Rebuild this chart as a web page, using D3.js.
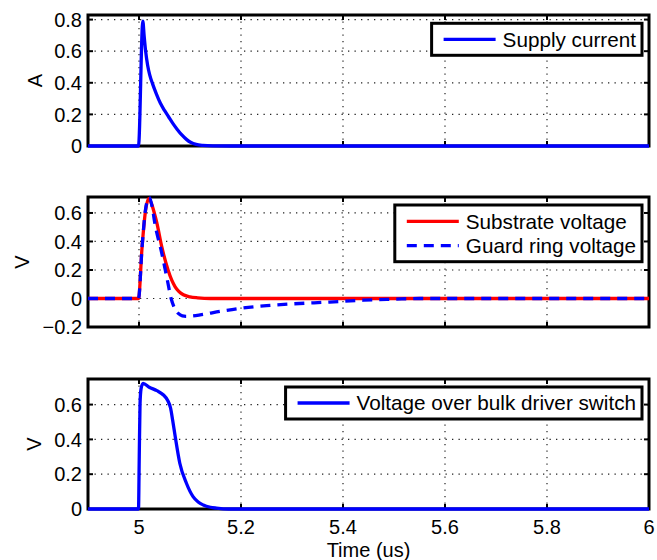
<!DOCTYPE html>
<html>
<head>
<meta charset="utf-8">
<script src="https://d3js.org/d3.v7.min.js"></script>
<style>
  body { margin: 0; background: #fff; }
  text { font-family: "Liberation Sans", Arial, Helvetica, sans-serif; fill: #000; }
</style>
</head>
<body>
<div id="my_chart"></div>
<script>
// time axis (us)
var xTicks = [5, 5.2, 5.4, 5.6, 5.8, 6];
var xTickLabels = ["5", "5.2", "5.4", "5.6", "5.8", "6"];

// panel 1: supply current (A)
var supplyT = [4.9, 4.999, 5.0075, 5.010, 5.013, 5.017, 5.021, 5.027, 5.034, 5.042, 5.050, 5.058, 5.066, 5.075, 5.084, 5.093, 5.102, 5.112, 5.125, 5.145, 5.180, 6.0];
var supplyI = [0, 0, 0.79, 0.70, 0.60, 0.51, 0.45, 0.39, 0.33, 0.27, 0.225, 0.185, 0.145, 0.105, 0.07, 0.042, 0.022, 0.01, 0.004, 0.001, 0, 0];
var yTicks1 = [0, 0.2, 0.4, 0.6, 0.8];

// panel 2: substrate and guard ring voltage (V)
var substrateT = [4.9, 4.999, 5.006, 5.013, 5.019, 5.025, 5.030, 5.035, 5.0445, 5.057, 5.064, 5.0706, 5.078, 5.087, 5.100, 5.115, 5.140, 6.0];
var substrateV = [0, 0, 0.36, 0.62, 0.70, 0.66, 0.60, 0.53, 0.365, 0.20, 0.13, 0.084, 0.05, 0.026, 0.012, 0.005, 0, 0];
var guardT = [4.9, 4.999, 5.006, 5.013, 5.020, 5.026, 5.031, 5.0445, 5.055, 5.063, 5.070, 5.077, 5.085, 5.092, 5.105, 5.12, 5.16, 5.2, 5.25, 5.3, 5.374, 5.44, 5.5, 5.55, 6.0];
var guardV = [0, 0, 0.36, 0.63, 0.71, 0.64, 0.53, 0.32, 0.14, 0.0, -0.07, -0.105, -0.122, -0.125, -0.122, -0.115, -0.09, -0.068, -0.05, -0.038, -0.025, -0.012, -0.005, 0, 0];
var yTicks2 = [-0.2, 0, 0.2, 0.4, 0.6];

// panel 3: voltage over bulk driver switch (V)
var bulkT = [4.9, 4.999, 5.0005, 5.002, 5.004, 5.008, 5.020, 5.035, 5.048, 5.056, 5.062, 5.066, 5.071, 5.080, 5.093, 5.106, 5.116, 5.126, 5.140, 5.152, 5.175, 6.0];
var bulkV = [0, 0, 0.30, 0.60, 0.69, 0.722, 0.70, 0.68, 0.655, 0.625, 0.579, 0.51, 0.416, 0.263, 0.148, 0.071, 0.040, 0.023, 0.010, 0.005, 0, 0];
var yTicks3 = [0, 0.2, 0.4, 0.6];

var W = 657, H = 560;
var left = 88, right = 649;

var svg = d3.select("#my_chart").append("svg")
    .attr("width", W)
    .attr("height", H);

var x = d3.scaleLinear().domain([4.9, 6]).range([left, right]);

function pairs(t, v) {
    return t.map(function(d, i) { return [d, v[i]]; });
}

var panels = [
    { top: 15, bottom: 146, domain: [0, 0.829], ticks: yTicks1, ylabel: "A", ylabelX: 35,
      series: [{ name: "Supply current", data: pairs(supplyT, supplyI), color: "#0000ff", dash: null }] },
    { top: 197, bottom: 327, domain: [-0.2, 0.712], ticks: yTicks2, ylabel: "V", ylabelX: 22,
      series: [{ name: "Substrate voltage", data: pairs(substrateT, substrateV), color: "#ff0000", dash: null },
               { name: "Guard ring voltage", data: pairs(guardT, guardV), color: "#0000ff", dash: "10,7" }] },
    { top: 379, bottom: 509, domain: [0, 0.747], ticks: yTicks3, ylabel: "V", ylabelX: 34,
      series: [{ name: "Voltage over bulk driver switch", data: pairs(bulkT, bulkV), color: "#0000ff", dash: null }] }
];

panels.forEach(function(p, pi) {
    var y = d3.scaleLinear().domain(p.domain).range([p.bottom, p.top]);
    var g = svg.append("g");

    // dotted grid
    g.selectAll(".vgrid").data(xTicks.slice(0, -1)).enter().append("line")
        .attr("x1", function(d) { return x(d); }).attr("x2", function(d) { return x(d); })
        .attr("y1", p.top).attr("y2", p.bottom)
        .attr("stroke", "#222").attr("stroke-width", 1.2).attr("stroke-dasharray", "1.3,5.2");
    g.selectAll(".hgrid").data(p.ticks.filter(function(d) { return y(d) > p.top + 2 && y(d) < p.bottom - 2; }))
        .enter().append("line")
        .attr("x1", left).attr("x2", right)
        .attr("y1", function(d) { return y(d); }).attr("y2", function(d) { return y(d); })
        .attr("stroke", "#222").attr("stroke-width", 1.2).attr("stroke-dasharray", "1.3,5.2");

    // inner ticks on all four sides
    xTicks.forEach(function(t) {
        g.append("line").attr("x1", x(t)).attr("x2", x(t)).attr("y1", p.bottom).attr("y2", p.bottom - 5)
            .attr("stroke", "#000").attr("stroke-width", 2);
        g.append("line").attr("x1", x(t)).attr("x2", x(t)).attr("y1", p.top).attr("y2", p.top + 5)
            .attr("stroke", "#000").attr("stroke-width", 2);
    });
    p.ticks.forEach(function(t) {
        g.append("line").attr("x1", left).attr("x2", left + 5).attr("y1", y(t)).attr("y2", y(t))
            .attr("stroke", "#000").attr("stroke-width", 2);
        g.append("line").attr("x1", right).attr("x2", right - 5).attr("y1", y(t)).attr("y2", y(t))
            .attr("stroke", "#000").attr("stroke-width", 2);
    });

    // axes box
    g.append("rect")
        .attr("x", left).attr("y", p.top)
        .attr("width", right - left).attr("height", p.bottom - p.top)
        .attr("fill", "none").attr("stroke", "#000").attr("stroke-width", 3);

    // y tick labels
    g.selectAll(".ylab").data(p.ticks).enter().append("text")
        .attr("x", left - 6)
        .attr("y", function(d) { return y(d); })
        .attr("dy", "0.36em")
        .attr("text-anchor", "end")
        .style("font-size", "20px")
        .text(function(d) { return d < 0 ? "\u2212" + Math.abs(d) : String(d); });

    // y axis title
    g.append("text")
        .attr("transform", "translate(" + (p.ylabelX + 7) + "," + ((p.top + p.bottom) / 2) + ") rotate(-90)")
        .attr("text-anchor", "middle")
        .style("font-size", "20px")
        .text(p.ylabel);

    // data lines
    var line = d3.line()
        .x(function(d) { return x(d[0]); })
        .y(function(d) { return y(d[1]); })
        .curve(d3.curveMonotoneX);
    p.series.forEach(function(s) {
        g.append("path")
            .datum(s.data)
            .attr("d", line)
            .attr("fill", "none")
            .attr("stroke", s.color)
            .attr("stroke-width", 3.3)
            .attr("stroke-dasharray", s.dash);
    });

    // legend
    var rowH = 24.4, lineLen = 52, padL = 12, gap = 7, padR = 6;
    var lg = g.append("g");
    var box = lg.append("rect");
    var maxW = 0;
    var texts = [];
    p.series.forEach(function(s, i) {
        var t = lg.append("text")
            .style("font-size", "20.7px")
            .attr("dy", "0.36em")
            .text(s.name);
        maxW = Math.max(maxW, t.node().getComputedTextLength());
        texts.push(t);
    });
    var boxW = padL + lineLen + gap + maxW + padR;
    var boxH = p.series.length == 1 ? 32 : 56.7;
    var bx = right - 7 - boxW;
    var by = p.top + (pi == 0 ? 8.3 : 8);
    box.attr("x", bx).attr("y", by).attr("width", boxW).attr("height", boxH)
        .attr("fill", "#fff").attr("stroke", "#000").attr("stroke-width", 3);
    p.series.forEach(function(s, i) {
        var cy = by + (p.series.length == 1 ? boxH / 2 : 16.3 + i * rowH);
        lg.append("line")
            .attr("x1", bx + padL).attr("x2", bx + padL + lineLen)
            .attr("y1", cy).attr("y2", cy)
            .attr("stroke", s.color).attr("stroke-width", 3.3)
            .attr("stroke-dasharray", s.dash);
        texts[i].attr("x", bx + padL + lineLen + gap).attr("y", cy);
    });

    // x tick labels on the bottom panel only
    if (pi == panels.length - 1) {
        g.selectAll(".xlab").data(xTicks).enter().append("text")
            .attr("x", function(d) { return x(d); })
            .attr("y", 534)
            .attr("text-anchor", "middle")
            .style("font-size", "20px")
            .text(function(d, i) { return xTickLabels[i]; });
        g.append("text")
            .attr("x", (left + right) / 2)
            .attr("y", 557)
            .attr("text-anchor", "middle")
            .style("font-size", "20px")
            .text("Time (us)");
    }
});
</script>
</body>
</html>
